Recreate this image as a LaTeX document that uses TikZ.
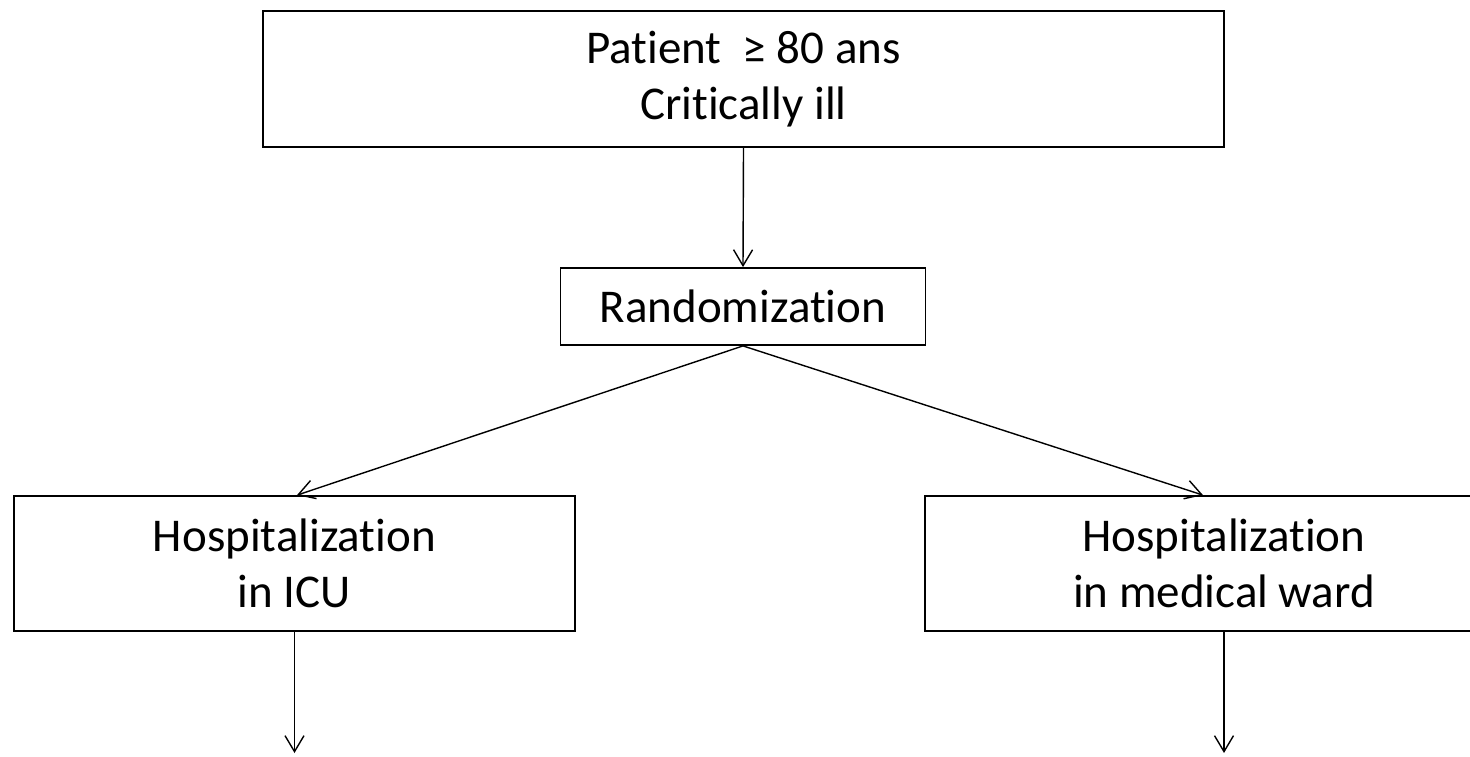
\documentclass[tikz,border=0pt]{standalone}
\usepackage{fontspec}
\setmainfont{Carlito}[Ligatures=NoCommon]
\usetikzlibrary{arrows.meta}
\begin{document}
\begin{tikzpicture}[x=1pt,y=-1pt,
	box/.style={draw, line width=1.8pt, align=center, inner sep=0pt, font=\fontsize{47}{56}\selectfont},
	link/.style={-{Straight Barb[length=16pt,width=19pt]}, line width=1.4pt}]
			\useasboundingbox (0,0) rectangle (1470,756);
			\clip (0,0) rectangle (1470,756);
			% boxes
			\node[box, minimum width=961pt, minimum height=136pt] (patient) at (743.5,79) {Patient\ \ ≥ 80 ans\\Critically ill};
			\node[box, minimum width=365pt, minimum height=77pt] (rand) at (743,306.5) {Randomization};
			\node[box, minimum width=561pt, minimum height=135pt] (icu) at (294.5,563.5) {Hospitalization\\in ICU};
			\node[box, minimum width=598pt, minimum height=135pt] (ward) at (1224,563.5) {Hospitalization\\in medical ward};
			% free ends
			\coordinate (icuend) at (294.5,753);
			\coordinate (wardend) at (1224,753);
			% arrows
			\draw[link] (patient.south) -- (rand.north);
			\draw[link] (rand.south) -- ([xshift=2.5pt]icu.north);
			\draw[link] (rand.south) -- ([xshift=-21pt]ward.north);
			\draw[link] (icu.south) -- (icuend);
			\draw[link] (ward.south) -- (wardend);
			\end{tikzpicture}
\end{document}
